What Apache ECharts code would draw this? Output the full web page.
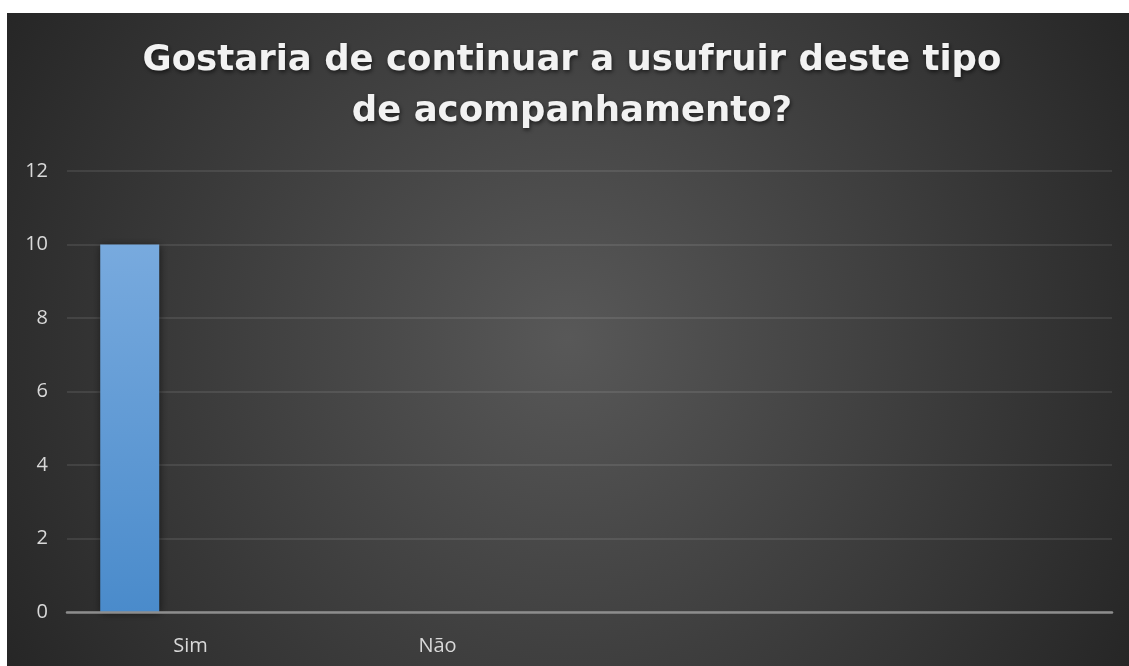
<!DOCTYPE html>
<html>
<head>
<meta charset="utf-8">
<script src="https://cdn.jsdelivr.net/npm/echarts@6/dist/echarts.min.js"></script>
<style>
  html, body { margin: 0; padding: 0; background: #ffffff; }
  #chart { position: absolute; left: 7px; top: 13px; width: 1122px; height: 653px; }
</style>
</head>
<body>
<div id="chart"></div>
<script>
// dados
const categories = ['Sim', 'Não', '', '']
const respostas = [10, 0, null, null]
const serie2 = [null, null, null, null]
const serie3 = [null, null, null, null]
const yTicks = { min: 0, max: 12, interval: 2 }

const labelFont = '"Open Sans", "Noto Sans", sans-serif'
const chart = echarts.init(document.getElementById('chart'))

const barColor = new echarts.graphic.LinearGradient(0, 0, 0, 1, [
  { offset: 0, color: '#78aade' },
  { offset: 1, color: '#4a8bcb' }
])

chart.setOption({
  animation: false,
  backgroundColor: {
    type: 'radial', x: 561, y: 326, r: 650, global: true,
    colorStops: [
      { offset: 0, color: '#585858' },
      { offset: 1, color: '#262626' }
    ]
  },
  title: {
    text: 'Gostaria de continuar a usufruir deste tipo\nde acompanhamento?',
    left: 565,
    top: 22,
    padding: 0,
    textAlign: 'center',
    textStyle: {
      fontFamily: '"DejaVu Sans", sans-serif',
      fontWeight: 'bold',
      fontSize: 35.5,
      lineHeight: 51,
      color: '#f2f2f2',
      textShadowColor: 'rgba(0,0,0,0.6)',
      textShadowBlur: 4,
      textShadowOffsetX: 1,
      textShadowOffsetY: 2
    }
  },
  grid: [
    { left: 60, right: 17, top: 158, bottom: 54 },
    { left: 60, width: 988, top: 158, bottom: 54 }
  ],
  xAxis: [
    {
      gridIndex: 0,
      type: 'category',
      data: [''],
      z: 5,
      axisLine: { lineStyle: { color: '#8d8d8d', width: 2.5 } },
      axisTick: { show: false },
      axisLabel: { show: false }
    },
    {
      gridIndex: 1,
      type: 'category',
      data: categories,
      axisLine: { show: false },
      axisTick: { show: false },
      axisLabel: {
        margin: 24,
        color: '#d9d9d9',
        fontSize: 20,
        fontFamily: labelFont
      }
    }
  ],
  yAxis: [
    {
      gridIndex: 0,
      type: 'value',
      min: yTicks.min,
      max: yTicks.max,
      interval: yTicks.interval,
      axisLine: { show: false },
      axisTick: { show: false },
      axisLabel: {
        margin: 19,
        color: '#d9d9d9',
        fontSize: 20,
        fontFamily: labelFont
      },
      splitLine: { lineStyle: { color: 'rgba(255,255,255,0.12)', width: 1.5 } }
    },
    {
      gridIndex: 1,
      type: 'value',
      min: yTicks.min,
      max: yTicks.max,
      interval: yTicks.interval,
      show: false,
      splitLine: { show: false }
    }
  ],
  series: [
    {
      name: 'Série1',
      type: 'bar',
      xAxisIndex: 1,
      yAxisIndex: 1,
      data: respostas,
      barWidth: 59,
      barGap: '3%',
      itemStyle: {
        color: barColor,
        shadowColor: 'rgba(0,0,0,0.55)',
        shadowBlur: 8,
        shadowOffsetX: 1,
        shadowOffsetY: 1
      }
    },
    {
      name: 'Série2',
      type: 'bar',
      xAxisIndex: 1,
      yAxisIndex: 1,
      data: serie2,
      barWidth: 59,
      barGap: '3%'
    },
    {
      name: 'Série3',
      type: 'bar',
      xAxisIndex: 1,
      yAxisIndex: 1,
      data: serie3,
      barWidth: 59,
      barGap: '3%'
    }
  ]
})
</script>
</body>
</html>
